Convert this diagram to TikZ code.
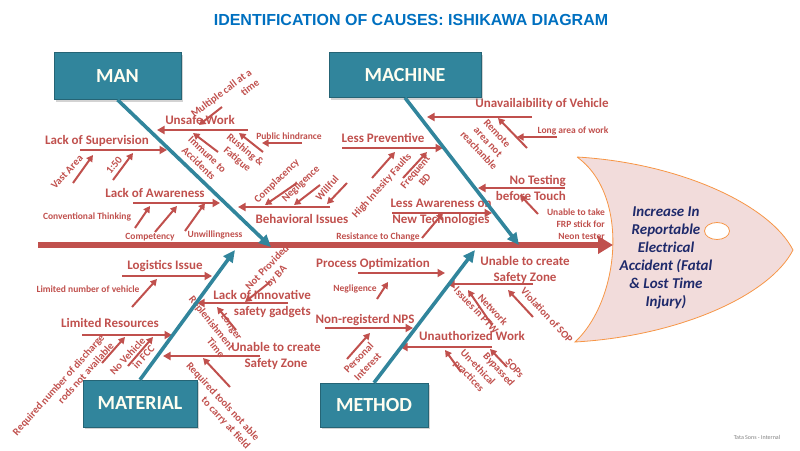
\documentclass[tikz,border=0pt]{standalone}
\usepackage{fontspec}
\setmainfont{Carlito}
\newfontfamily\titlefont{Liberation Sans}
\usetikzlibrary{arrows.meta,shadows,shapes.geometric}
\definecolor{fbred}{HTML}{C0504D}
\definecolor{fbteal}{HTML}{31859C}
\definecolor{fbblue}{HTML}{0070C0}
\definecolor{fbnavy}{HTML}{1F2A6B}
\definecolor{fbpink}{HTML}{F2DCDB}
\definecolor{fborange}{HTML}{F79646}
\newcommand\rbone[4]{\coordinate (#1a) at (#2); \coordinate (#1b) at (#3); \draw[#4] (#1a) -- (#1b);}
\begin{document}
\begin{tikzpicture}[x=1pt,y=-1pt,
  redarr/.style={draw=fbred,line width=2.6pt,-{Triangle[length=7.5pt,width=8pt]}},
  redsm/.style={draw=fbred,line width=2pt,-{Triangle[length=6.5pt,width=7pt]}},
  tealarr/.style={draw=fbteal,line width=3.6pt,-{Triangle[length=12pt,width=11pt]}},
  cause/.style={text=fbred,font=\bfseries\fontsize{13}{16}\selectfont,inner sep=0pt,align=center},
  small/.style={text=fbred,font=\bfseries\fontsize{9.5}{12}\selectfont,inner sep=0pt,align=center},
  sub/.style={text=fbred,font=\bfseries\fontsize{10.5}{12.5}\selectfont,inner sep=0pt,align=center},
  cat/.style={fill=fbteal,draw=fbteal!75!black,line width=0.5pt,text=white!94!yellow,
    font=\bfseries\fontsize{20}{24}\selectfont,inner sep=0pt,
    drop shadow={opacity=0.35,shadow xshift=1.5pt,shadow yshift=-2pt}},
]
\useasboundingbox (0,0) rectangle (800,450);

% title
\node[font=\titlefont\bfseries\fontsize{16}{18}\selectfont,text=fbblue] (title) at (411,20) {IDENTIFICATION OF CAUSES: ISHIKAWA DIAGRAM};

% fish head
\draw[fborange,fill=fbpink,line width=0.8pt] (577,157) .. controls (680,163) and (770,205) .. (793,250)
  .. controls (770,295) and (680,336) .. (575,342) .. controls (620,300) and (630,195) .. (577,157);
\node[draw=fborange,fill=white,line width=0.8pt,ellipse,minimum width=25pt,minimum height=17pt,inner sep=0pt] (eye) at (717,231) {};
\node[text=fbnavy,font=\bfseries\itshape\fontsize{15}{18}\selectfont,align=center] (effect) at (666,258)
  {Increase In\\Reportable\\Electrical\\Accident (Fatal\\\& Lost Time\\Injury)};

% spine
\coordinate (spineL) at (38,245);
\coordinate (spineR) at (613,245);
\draw[fbred,line width=6pt,-{Triangle[length=15pt,width=17pt]}] (spineL) -- (spineR);

% ---------- MAN ----------
\rbone{unsafe}{248,130}{157,130}{redarr}
\rbone{mult}{222,107}{199,125}{redsm}
\rbone{pub}{302,143}{262,143}{redsm}
\rbone{rush}{263,152}{239,133}{redsm}
\rbone{imm}{218,152}{193,133}{redsm}
\rbone{super}{80,150}{167,150}{redarr}
\rbone{vast}{73,183}{93,155}{redsm}
\rbone{one}{113,180}{133,153}{redsm}
\rbone{aware}{133,203}{220,203}{redarr}
\rbone{conv}{135,228}{150,206}{redsm}
\rbone{comp}{155,232}{177,206}{redsm}
\rbone{unw}{185,231}{205,203}{redsm}
\rbone{behav}{330,207}{238,207}{redarr}
\rbone{compl}{297,183}{265,205}{redsm}
\rbone{negl}{320,185}{294,205}{redsm}
\rbone{will}{347,183}{327,204}{redsm}

\node[cause] (unsafeL) at (200,120) {Unsafe Work};
\node[sub,rotate=37,align=right] (multL) at (225,98) {Multiple call at a\\time};
\node[small] (pubL) at (289,136) {Public hindrance};
\node[sub,rotate=-40] (rushL) at (241,155) {Rushing \&\\Fatigue};
\node[sub,rotate=-44] (immL) at (203,159) {Immune to\\Accidents};
\node[cause] (superL) at (97,141) {Lack of Supervision};
\node[sub,rotate=47] (vastL) at (67,172) {Vast Area};
\node[sub,rotate=50] (oneL) at (114,165) {1:50};
\node[cause] (awareL) at (155,193) {Lack of Awareness};
\node[small] (convL) at (87,217) {Conventional Thinking};
\node[small] (compL) at (150,237) {Competency};
\node[small] (unwL) at (215,235) {Unwillingness};
\node[cause] (behavL) at (302,219) {Behavioral Issues};
\node[sub,rotate=44] (complL) at (277,181) {Complacency};
\node[sub,rotate=44] (neglL) at (301,184) {Negligence};
\node[sub,rotate=48] (willL) at (327,188) {Willful};

% ---------- MACHINE ----------
\rbone{unav}{532,117}{427,117}{redarr}
\rbone{long}{557,137}{517,137}{redsm}
\rbone{rem}{527,148}{498,118}{redsm}
\rbone{prev}{342,148}{443,148}{redarr}
\rbone{high}{372,178}{395,152}{redsm}
\rbone{freq}{403,178}{427,152}{redsm}
\rbone{notest}{565,188}{478,188}{redarr}
\rbone{frp}{538,214}{520,195}{redsm}
\rbone{lessaw}{392,213}{492,213}{redarr}
\rbone{res}{422,238}{443,213}{redsm}

\node[cause] (unavL) at (542,104) {Unavailaibility of Vehicle};
\node[small] (longL) at (573,131) {Long area of work};
\node[sub,rotate=-47] (remL) at (488,142) {Remote\\area not\\reachanble};
\node[cause] (prevL) at (383,138) {Less Preventive};
\node[sub,rotate=48] (highL) at (382,186) {High Intesity Faults};
\node[sub,rotate=50] (freqL) at (420,176) {Frequent\\BD};
\node[cause,align=right,anchor=east] (notestL) at (566,188) {No Testing\\before Touch};
\node[small,align=right,anchor=east] (frpL) at (605,224) {Unable to take\\FRP stick for\\Neon tester};
\node[cause] (lessawL) at (441,212) {Less Awareness on\\New Technologies};
\node[small] (resL) at (378,237) {Resistance to Change};

% ---------- MATERIAL ----------
\rbone{log}{122,276}{212,276}{redarr}
\rbone{limv}{132,307}{157,279}{redsm}
\rbone{limres}{82,335}{172,335}{redarr}
\rbone{disch}{102,363}{125,337}{redsm}
\rbone{nov}{128,366}{153,337}{redsm}
\rbone{innov}{288,303}{197,303}{redarr}
\rbone{notp}{270,282}{245,302}{redsm}
\rbone{longer}{236,330}{217,307}{redsm}
\rbone{unableA}{260,356}{163,356}{redarr}
\rbone{tools}{230,387}{203,358}{redsm}

\node[cause] (logL) at (165,266) {Logistics Issue};
\node[small] (limvL) at (88,289) {Limited number of vehicle};
\node[cause] (limresL) at (110,323) {Limited Resources};
\node[sub,rotate=48,align=right] (dischL) at (63,389) {Required number of discharge\\rods not available};
\node[sub,rotate=47,align=right] (novL) at (132,360) {No Vehicle\\in FCC};
\node[cause,align=right,anchor=east] (innovL) at (311,304) {Lack of Innovative\\safety gadgets};
\node[sub,rotate=46] (notpL) at (272,272) {Not Provided\\by BA};
\node[sub,rotate=-51,align=right] (replL) at (207,327) {Replenishment\\Time};
\node[sub,rotate=-56] (longerL) at (231,327) {Longer};
\node[cause] (unableAL) at (276,356) {Unable to create\\Safety Zone};
\node[sub,rotate=-47,align=right] (toolsL) at (218,406) {Required tools not able\\to carry at field};

% ---------- METHOD ----------
\rbone{proc}{358,273}{445,273}{redarr}
\rbone{neg}{377,299}{388,282}{redsm}
\rbone{nonreg}{325,328}{413,328}{redarr}
\rbone{pers}{347,359}{370,333}{redsm}
\rbone{unableB}{533,284}{447,284}{redarr}
\rbone{net}{492,325}{468,290}{redsm}
\rbone{viol}{533,317}{508,290}{redsm}
\rbone{unauth}{492,347}{400,347}{redarr}
\rbone{uneth}{461,372}{445,350}{redsm}
\rbone{sops}{507,367}{490,349}{redsm}

\node[cause] (procL) at (373,264) {Process Optimization};
\node[small] (negL) at (355,289) {Negligence};
\node[cause] (nonregL) at (365,320) {Non-registerd NPS};
\node[sub,rotate=46] (persL) at (363,362) {Personal\\Interest};
\node[cause] (unableBL) at (525,270) {Unable to create\\Safety Zone};
\node[sub,rotate=-47,align=right] (netL) at (481,306) {Network\\Issues in PTW};
\node[sub,rotate=-47] (violL) at (547,315) {Violation of SOP};
\node[cause] (unauthL) at (472,336) {Unauthorized Work};
\node[sub,rotate=-46] (unethL) at (473,372) {Un-ethical\\practices};
\node[sub,rotate=-48,align=right] (sopsL) at (503,366) {SOPs\\Bypassed};

% ---------- category boxes & main bones ----------
\node[cat,minimum width=127pt,minimum height=47pt] (man) at (117.5,76) {MAN};
\node[cat,minimum width=152pt,minimum height=45pt] (machine) at (405,75) {MACHINE};
\node[cat,minimum width=114pt,minimum height=47pt] (material) at (140,403.5) {MATERIAL};
\node[cat,minimum width=108pt,minimum height=44pt] (method) at (374,405) {METHOD};

\coordinate (manT) at (271,247);
\coordinate (machT) at (519,245);
\coordinate (matT) at (235,250);
\coordinate (methT) at (475,250);
\draw[tealarr] (man.south) -- (manT);
\draw[tealarr] (machine.south) -- (machT);
\draw[tealarr] (material.north) -- (matT);
\draw[tealarr] (method.north) -- (methT);

\node[text=black!50,font=\fontsize{6}{7}\selectfont] (tata) at (757,437) {Tata Sons - Internal};
\end{tikzpicture}
\end{document}
